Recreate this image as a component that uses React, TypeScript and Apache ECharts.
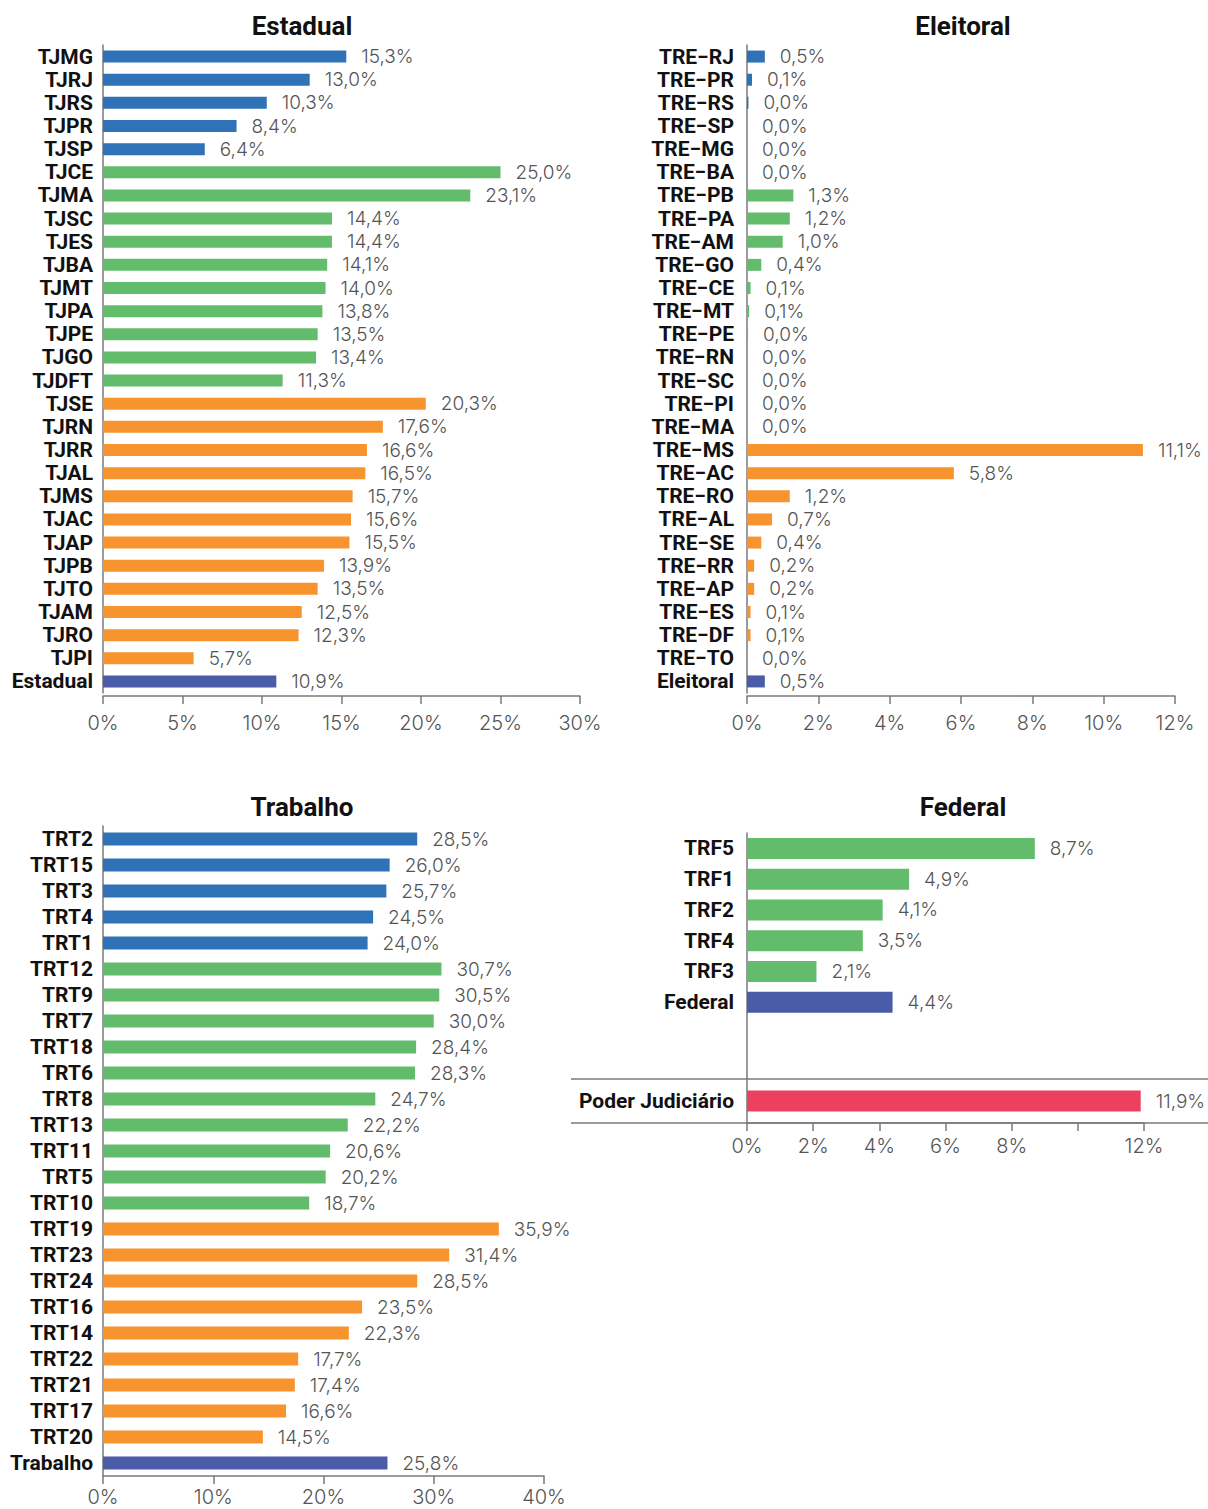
import React, { useEffect, useRef } from "react";
import * as echarts from "echarts";

const BLUE = "#2F72B8";
const GREEN = "#62BC6C";
const ORANGE = "#F7942E";
const NAVY = "#4A5BA7";
const PINK = "#EC4060";

const estadualCats = ["TJMG","TJRJ","TJRS","TJPR","TJSP","TJCE","TJMA","TJSC","TJES","TJBA","TJMT","TJPA","TJPE","TJGO","TJDFT","TJSE","TJRN","TJRR","TJAL","TJMS","TJAC","TJAP","TJPB","TJTO","TJAM","TJRO","TJPI","Estadual"];
const estadualVals = [15.3,13.0,10.3,8.4,6.4,25.0,23.1,14.4,14.4,14.1,14.0,13.8,13.5,13.4,11.3,20.3,17.6,16.6,16.5,15.7,15.6,15.5,13.9,13.5,12.5,12.3,5.7,10.9];
const estadualGroups = [5, 10, 12, 1];

const eleitoralCats = ["TRE−RJ","TRE−PR","TRE−RS","TRE−SP","TRE−MG","TRE−BA","TRE−PB","TRE−PA","TRE−AM","TRE−GO","TRE−CE","TRE−MT","TRE−PE","TRE−RN","TRE−SC","TRE−PI","TRE−MA","TRE−MS","TRE−AC","TRE−RO","TRE−AL","TRE−SE","TRE−RR","TRE−AP","TRE−ES","TRE−DF","TRE−TO","Eleitoral"];
const eleitoralVals = [0.5,0.14,0.04,0.0,0.0,0.0,1.3,1.2,1.0,0.4,0.1,0.06,0.03,0.0,0.0,0.0,0.0,11.1,5.8,1.2,0.7,0.4,0.2,0.2,0.1,0.1,0.0,0.5];
const eleitoralGroups = [6, 11, 10, 1];

const trabalhoCats = ["TRT2","TRT15","TRT3","TRT4","TRT1","TRT12","TRT9","TRT7","TRT18","TRT6","TRT8","TRT13","TRT11","TRT5","TRT10","TRT19","TRT23","TRT24","TRT16","TRT14","TRT22","TRT21","TRT17","TRT20","Trabalho"];
const trabalhoVals = [28.5,26.0,25.7,24.5,24.0,30.7,30.5,30.0,28.4,28.3,24.7,22.2,20.6,20.2,18.7,35.9,31.4,28.5,23.5,22.3,17.7,17.4,16.6,14.5,25.8];
const trabalhoGroups = [5, 10, 9, 1];

const federalCats = ["TRF5","TRF1","TRF2","TRF4","TRF3","Federal","",""];
const federalVals = [8.7,4.9,4.1,3.5,2.1,4.4];
const federalGroups = [0, 5, 0, 1];

const poderCats = ["Poder Judiciário"];
const poderVals = [11.9];

const groupColors = [BLUE, GREEN, ORANGE, NAVY];

function colorize(vals: number[], groups: number[]) {
  const out: any[] = [];
  let i = 0;
  groups.forEach((n, g) => {
    for (let k = 0; k < n; k++) {
      out.push({ value: vals[i], itemStyle: { color: groupColors[g] } });
      i++;
    }
  });
  return out;
}

const AXIS_COLOR = "#7a7a7a";
const CAT_FONT = { fontFamily: "Roboto", fontWeight: "bold" as const, fontSize: 21, color: "#111" };
const VAL_FONT = { fontFamily: "Inter", fontWeight: 300 as const, fontSize: 19, color: "#555" };

const fmt = (v: number) => v.toFixed(1).replace(".", ",") + "%";

export default function App() {
  const ref = useRef<HTMLDivElement>(null);
  useEffect(() => {
    if (!ref.current) return;
    const chart = echarts.init(ref.current, undefined, { renderer: "svg" });

    const grids = [
      { left: 103, top: 45, width: 477, height: 648 },
      { left: 747, top: 45, width: 428, height: 648 },
      { left: 103, top: 826, width: 441, height: 650 },
      { left: 747, top: 833, width: 397, height: 246 },
      { left: 747, top: 1079, width: 397, height: 44 },
    ];

    const xAxisBase = (gi: number, max: number, interval: number, offset: number, margin: number, showAxis: boolean, hide?: number) => ({
      type: "value",
      gridIndex: gi,
      min: 0,
      max,
      interval,
      offset,
      show: showAxis,
      splitLine: { show: false },
      axisLine: { show: true, lineStyle: { color: AXIS_COLOR, width: 1.5 } },
      axisTick: { show: true, length: 8, lineStyle: { color: AXIS_COLOR, width: 1.5 } },
      axisLabel: {
        ...VAL_FONT,
        fontSize: 20,
        margin,
        formatter: (v: number) => (hide !== undefined && v === hide ? "" : v + "%"),
      },
    });

    const yAxisBase = (gi: number, cats: string[], margin: number) => ({
      type: "category",
      gridIndex: gi,
      data: cats,
      inverse: true,
      axisLine: { show: true, lineStyle: { color: AXIS_COLOR, width: 1.5 } },
      axisTick: { show: false },
      axisLabel: { ...CAT_FONT, margin, interval: 0 },
    });

    const barSeries = (gi: number, data: any[], barWidth: number) => ({
      type: "bar",
      xAxisIndex: gi,
      yAxisIndex: gi,
      data,
      barWidth,
      label: {
        show: true,
        position: "right",
        distance: 15,
        ...VAL_FONT,
        formatter: (p: any) => fmt(p.value),
      },
    });

    const titleText = (text: string, x: number, y: number) => ({
      type: "text",
      x,
      y,
      style: {
        text,
        fontFamily: "Roboto",
        fontWeight: "bold",
        fontSize: 26,
        fill: "#111",
        textAlign: "center",
        textVerticalAlign: "middle",
      },
    });

    const sepLine = (y: number) => ({
      type: "line",
      shape: { x1: 571, y1: y, x2: 1208, y2: y },
      style: { stroke: AXIS_COLOR, lineWidth: 1.5 },
      z: 10,
    });

    chart.setOption({
      animation: false,
      backgroundColor: "#fff",
      grid: grids,
      xAxis: [
        xAxisBase(0, 30, 5, 3, 17, true),
        xAxisBase(1, 12, 2, 3, 17, true),
        xAxisBase(2, 40, 10, 0, 11, true),
        xAxisBase(3, 12, 2, 0, 13, false),
        xAxisBase(4, 12, 2, 0, 13, true, 10),
      ],
      yAxis: [
        yAxisBase(0, estadualCats, 10),
        yAxisBase(1, eleitoralCats, 13),
        yAxisBase(2, trabalhoCats, 10),
        yAxisBase(3, federalCats, 13),
        yAxisBase(4, poderCats, 13),
      ],
      series: [
        barSeries(0, colorize(estadualVals, estadualGroups), 12),
        barSeries(1, colorize(eleitoralVals, eleitoralGroups), 12),
        barSeries(2, colorize(trabalhoVals, trabalhoGroups), 13),
        barSeries(3, colorize(federalVals, federalGroups), 21),
        barSeries(4, poderVals.map((v) => ({ value: v, itemStyle: { color: PINK } })), 21),
      ],
      graphic: [
        titleText("Estadual", 302, 26),
        titleText("Eleitoral", 963, 26),
        titleText("Trabalho", 302, 807),
        titleText("Federal", 963, 807),
        sepLine(1079),
        sepLine(1123),
      ],
    });
    return () => chart.dispose();
  }, []);

  return (
    <div
      ref={ref}
      style={{ position: "absolute", left: 0, top: 0, width: 1208, height: 1509 }}
    />
  );
}
